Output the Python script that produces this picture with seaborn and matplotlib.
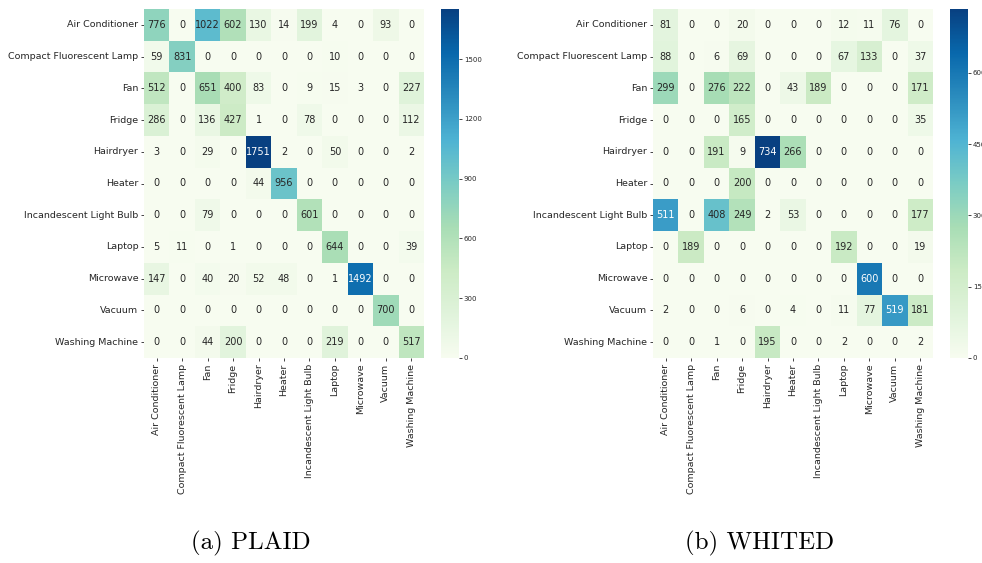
import numpy as np
import pandas as pd
import matplotlib
matplotlib.use("Agg")
import matplotlib.pyplot as plt
import seaborn as sns

labels = ["Air Conditioner", "Compact Fluorescent Lamp", "Fan", "Fridge",
          "Hairdryer", "Heater", "Incandescent Light Bulb", "Laptop",
          "Microwave", "Vacuum", "Washing Machine"]

plaid_rows = [
    [776, 0, 1022, 602, 130, 14, 199, 4, 0, 93, 0],
    [59, 831, 0, 0, 0, 0, 0, 10, 0, 0, 0],
    [512, 0, 651, 400, 83, 0, 9, 15, 3, 0, 227],
    [286, 0, 136, 427, 1, 0, 78, 0, 0, 0, 112],
    [3, 0, 29, 0, 1751, 2, 0, 50, 0, 0, 2],
    [0, 0, 0, 0, 44, 956, 0, 0, 0, 0, 0],
    [0, 0, 79, 0, 0, 0, 601, 0, 0, 0, 0],
    [5, 11, 0, 1, 0, 0, 0, 644, 0, 0, 39],
    [147, 0, 40, 20, 52, 48, 0, 1, 1492, 0, 0],
    [0, 0, 0, 0, 0, 0, 0, 0, 0, 700, 0],
    [0, 0, 44, 200, 0, 0, 0, 219, 0, 0, 517],
]

whited_rows = [
    [81, 0, 0, 20, 0, 0, 0, 12, 11, 76, 0],
    [88, 0, 6, 69, 0, 0, 0, 67, 133, 0, 37],
    [299, 0, 276, 222, 0, 43, 189, 0, 0, 0, 171],
    [0, 0, 0, 165, 0, 0, 0, 0, 0, 0, 35],
    [0, 0, 191, 9, 734, 266, 0, 0, 0, 0, 0],
    [0, 0, 0, 200, 0, 0, 0, 0, 0, 0, 0],
    [511, 0, 408, 249, 2, 53, 0, 0, 0, 0, 177],
    [0, 189, 0, 0, 0, 0, 0, 192, 0, 0, 19],
    [0, 0, 0, 0, 0, 0, 0, 0, 600, 0, 0],
    [2, 0, 0, 6, 0, 4, 0, 11, 77, 519, 181],
    [0, 0, 1, 0, 195, 0, 0, 2, 0, 0, 2],
]

plaid_ticks = [0, 300, 600, 900, 1200, 1500]
whited_ticks = [0, 150, 300, 450, 600]
captions = ["(a) PLAID", "(b) WHITED"]

sns.set_style("white")
plt.rcParams["font.family"] = ["DejaVu Sans"]
plt.rcParams["text.color"] = "#262626"
plt.rcParams["xtick.color"] = "#262626"
plt.rcParams["ytick.color"] = "#262626"

W, H = 982, 563
fig = plt.figure(figsize=(W / 100, H / 100), dpi=100)


def frac(x0, y0, x1, y1):
    return [x0 / W, 1 - y1 / H, (x1 - x0) / W, (y1 - y0) / H]


panels = [
    (plaid_rows, plaid_ticks, frac(144, 9, 424, 358), frac(441, 9, 459, 358), 251),
    (whited_rows, whited_ticks, frac(653, 9, 933, 358), frac(950, 9, 968, 358), 760),
]

for (rows, ticks, ax_box, cb_box, cx), cap in zip(panels, captions):
    df = pd.DataFrame(rows, index=labels, columns=labels)
    ax = fig.add_axes(ax_box)
    cax = fig.add_axes(cb_box)
    sns.heatmap(df, ax=ax, cbar_ax=cax, cmap="GnBu", annot=True, fmt="d",
                annot_kws={"fontsize": 7},
                cbar_kws={"ticks": ticks})
    ax.tick_params(axis="both", labelsize=6.8, length=2, width=0.6, pad=2,
                   left=True, bottom=True)
    ax.set_xticklabels(labels, rotation=90)
    ax.set_yticklabels(labels, rotation=0)
    cax.tick_params(labelsize=5, length=2, width=0.6, pad=1.5)
    cax.collections[0].set_edgecolor("face")
    for s in cax.spines.values():
        s.set_visible(False)
    fig.text(cx / W, 1 - 543 / H, cap, ha="center", va="center",
             family="cmr10", fontsize=18, color="black")

fig.savefig("out.png", dpi=100)
